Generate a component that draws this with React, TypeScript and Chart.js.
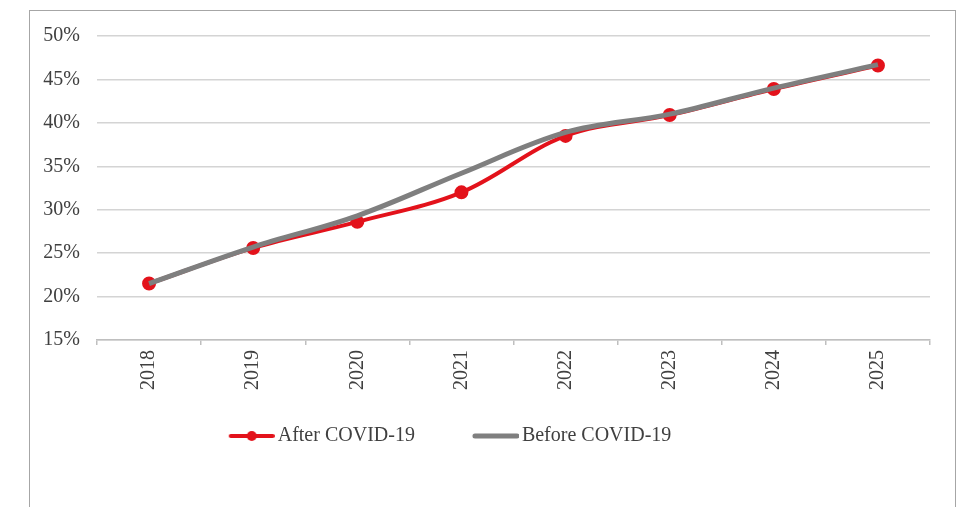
import React, { useEffect, useRef } from 'react';
import { Chart, registerables } from 'chart.js';

Chart.register(...registerables);

const years = ['2018', '2019', '2020', '2021', '2022', '2023', '2024', '2025'];
const afterCovid = [21.5, 25.6, 28.6, 32.0, 38.5, 40.9, 43.9, 46.6];
const beforeCovid = [21.5, 25.7, 29.3, 34.2, 38.9, 41.0, 44.0, 46.7];
const yMin = 15;
const yMax = 50;
const yStep = 5;
const seriesNames = ['After COVID-19', 'Before COVID-19'];

const RED = '#e3121b';
const GRAY = '#7f7f7f';
const FONT = "'Liberation Serif', 'Times New Roman', serif";

// legend symbol: transparent left part, visible 46px line on the right
function makeSymbol(color: string, lineW: number, imgW: number, dot: number): HTMLCanvasElement {
  const c = document.createElement('canvas');
  c.width = imgW;
  c.height = 14;
  const ctx = c.getContext('2d')!;
  const x0 = imgW - 46;
  ctx.strokeStyle = color;
  ctx.lineWidth = lineW;
  ctx.lineCap = 'round';
  ctx.beginPath();
  ctx.moveTo(x0 + 2, 7);
  ctx.lineTo(imgW - 2, 7);
  ctx.stroke();
  if (dot > 0) {
    ctx.fillStyle = color;
    ctx.beginPath();
    ctx.arc(x0 + 23, 7, dot, 0, Math.PI * 2);
    ctx.fill();
  }
  return c;
}

export default function App() {
  const ref = useRef<HTMLCanvasElement>(null);

  useEffect(() => {
    if (!ref.current) return;
    const redSym = makeSymbol(RED, 4, 82, 5);
    const graySym = makeSymbol(GRAY, 5, 82, 0);
    const chart = new Chart(ref.current, {
      type: 'line',
      data: {
        labels: years,
        datasets: [
          {
            label: seriesNames[0],
            data: afterCovid,
            borderColor: RED,
            backgroundColor: RED,
            borderWidth: 4,
            pointRadius: 5,
            pointBackgroundColor: RED,
            pointBorderColor: RED,
            pointStyle: 'circle',
            tension: 0.35,
            order: 2,
          },
          {
            label: seriesNames[1],
            data: beforeCovid,
            borderColor: GRAY,
            backgroundColor: GRAY,
            borderWidth: 5,
            pointRadius: 0,
            tension: 0.35,
            order: 1,
          },
        ],
      },
      options: {
        responsive: false,
        animation: false,
        devicePixelRatio: 1,
        font: { family: FONT, size: 20 },
        color: '#404040',
        layout: { padding: { left: 0, right: 25, top: 20, bottom: 51 } },
        scales: {
          x: {
            offset: true,
            grid: {
              offset: true,
              drawOnChartArea: false,
              drawTicks: true,
              tickLength: 5,
              color: '#bfbfbf',
              lineWidth: 1.5,
            },
            border: { display: true, color: '#bfbfbf', width: 1.5 },
            ticks: {
              minRotation: 90,
              maxRotation: 90,
              padding: 5,
              color: '#404040',
              font: { family: FONT, size: 20 },
            },
            afterFit: (scale: any) => {
              scale.height = 57;
            },
          },
          y: {
            min: yMin,
            max: yMax,
            grid: { color: '#d4d4d4', lineWidth: 1.5, drawTicks: false },
            border: { display: false },
            ticks: {
              stepSize: yStep,
              padding: 17,
              color: '#404040',
              font: { family: FONT, size: 20 },
              callback: (v: any) => v + '%',
            },
            afterFit: (scale: any) => {
              scale.width = 156;
            },
          },
        },
        plugins: {
          legend: {
            position: 'bottom',
            labels: {
              usePointStyle: true,
              pointStyleWidth: 68,
              padding: 29,
              color: '#404040',
              font: { family: FONT, size: 20 },
              sort: (a: any, b: any) => a.datasetIndex - b.datasetIndex,
              generateLabels: (c: any) => {
                const items = (Chart.defaults.plugins.legend.labels as any).generateLabels(c);
                items.forEach((it: any) => {
                  it.pointStyle = it.datasetIndex === 0 ? redSym : graySym;
                });
                return items;
              },
            },
          },
          tooltip: { enabled: false },
        },
      },
    } as any);
    return () => chart.destroy();
  }, []);

  return (
    <div style={{ position: 'absolute', left: 0, top: 0, width: 956, height: 507, overflow: 'hidden', background: '#fff' }}>
      <div
        style={{
          position: 'absolute',
          left: 29,
          top: 10,
          width: 927,
          height: 600,
          boxSizing: 'border-box',
          border: '1px solid #a6a6a6',
        }}
      />
      <canvas
        ref={ref}
        width={1014}
        height={500}
        style={{ position: 'absolute', left: -59, top: 7, width: 1014, height: 500 }}
      />
    </div>
  );
}
